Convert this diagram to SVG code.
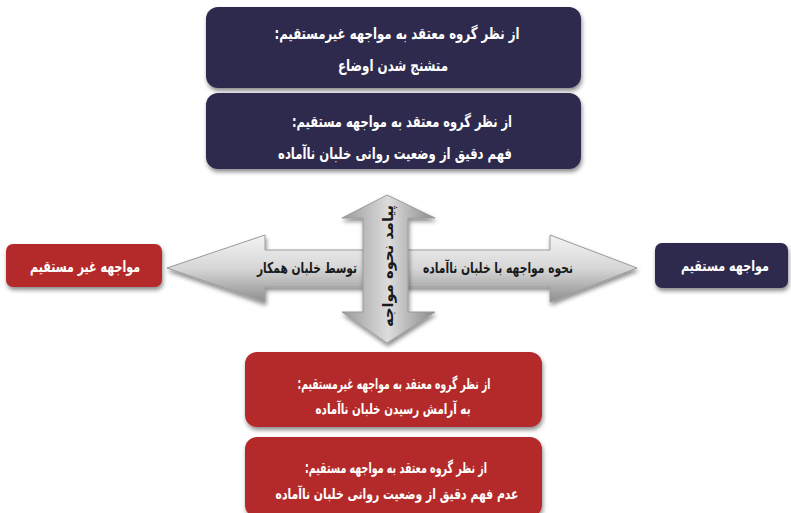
<svg xmlns="http://www.w3.org/2000/svg" width="791" height="513" viewBox="0 0 791 513">
<defs>
<style>
.t{font-family:"DejaVu Sans",sans-serif;font-weight:bold;text-anchor:middle;direction:rtl}
.w{fill:#ffffff;font-size:16px}
.s{font-size:15px}
.d{fill:#1a1a1a;font-size:15px}
.navy{fill:#2f2a4e}
.red{fill:#b42a2c}
.arr{stroke:#9a9a9a;stroke-width:1}
</style>
<linearGradient id="gh" x1="0" y1="0" x2="0" y2="1">
<stop offset="0" stop-color="#f4f4f4"/>
<stop offset="0.5" stop-color="#d6d6d6"/>
<stop offset="1" stop-color="#8e8e8e"/>
</linearGradient>
<linearGradient id="gv" x1="0" y1="0" x2="1" y2="0">
<stop offset="0" stop-color="#9a9a9a"/>
<stop offset="0.5" stop-color="#dcdcdc"/>
<stop offset="1" stop-color="#8a8a8a"/>
</linearGradient>
<filter id="sh" x="-10%" y="-10%" width="120%" height="130%">
<feDropShadow dx="1" dy="3" stdDeviation="2" flood-color="#000" flood-opacity="0.45"/>
</filter>
</defs>
<rect width="791" height="513" fill="#ffffff"/>

<g id="connectors">
<path id="h-arrow" class="arr" fill="url(#gh)" filter="url(#sh)" d="M167,268 L265,235 L265,250 L550,250 L550,235 L637,268 L550,302 L550,287 L265,287 L265,302 Z"/>
<path id="v-arrow" class="arr" fill="url(#gv)" filter="url(#sh)" d="M387,195 L435,218 L408,218 L408,312 L435,312 L387,343 L342,312 L363,312 L363,218 L342,218 Z"/>
</g>

<g id="box-top-1">
<rect class="navy" x="206" y="7" width="375" height="81" rx="12" filter="url(#sh)"/>
<text class="t w" x="397" y="39" textLength="245" lengthAdjust="spacingAndGlyphs">از نظر گروه معتقد به مواجهه  غیرمستقیم:</text>
<text class="t w" x="393" y="71" textLength="110" lengthAdjust="spacingAndGlyphs">متشنج شدن اوضاع</text>
</g>

<g id="box-top-2">
<rect class="navy" x="206" y="93" width="375" height="76" rx="12" filter="url(#sh)"/>
<text class="t w" x="402" y="127" textLength="220" lengthAdjust="spacingAndGlyphs">از نظر گروه معتقد به مواجهه مستقیم:</text>
<text class="t w" x="395" y="159" textLength="234" lengthAdjust="spacingAndGlyphs">فهم دقیق از وضعیت روانی خلبان ناآماده</text>
</g>

<g id="box-left">
<rect class="red" x="6" y="244" width="156" height="43" rx="7" filter="url(#sh)"/>
<text class="t w" x="85" y="272" textLength="110" lengthAdjust="spacingAndGlyphs">مواجهه غیر مستقیم</text>
</g>

<g id="box-right">
<rect class="navy" x="655" y="243" width="133" height="45" rx="7" filter="url(#sh)"/>
<text class="t w s" x="725" y="271" textLength="88" lengthAdjust="spacingAndGlyphs" style="direction:ltr">مواجهه مستقیم</text>
</g>

<g id="box-bottom-1">
<rect class="red" x="245" y="352" width="297" height="75" rx="12" filter="url(#sh)"/>
<text class="t w s" x="394" y="389" textLength="193" lengthAdjust="spacingAndGlyphs">از نظر گروه معتقد به مواجهه  غیرمستقیم:</text>
<text class="t w s" x="393" y="414" textLength="155" lengthAdjust="spacingAndGlyphs">به آرامش رسیدن خلبان ناآماده</text>
</g>

<g id="box-bottom-2">
<rect class="red" x="245" y="437" width="297" height="80" rx="12" filter="url(#sh)"/>
<text class="t w s" x="396" y="473" textLength="182" lengthAdjust="spacingAndGlyphs">از نظر گروه معتقد به مواجهه مستقیم:</text>
<text class="t w s" x="397" y="499" textLength="243" lengthAdjust="spacingAndGlyphs">عدم فهم دقیق از وضعیت روانی خلبان ناآماده</text>
</g>

<g id="arrow-labels">
<text class="t d" x="307" y="273" textLength="100" lengthAdjust="spacingAndGlyphs">توسط  خلبان همکار</text>
<text class="t d" x="498" y="273" textLength="150" lengthAdjust="spacingAndGlyphs">نحوه مواجهه با خلبان ناآماده</text>
<text class="t d" transform="translate(393,266) rotate(-90)" x="0" y="0" textLength="122" lengthAdjust="spacingAndGlyphs">پیامد نحوه مواجه</text>
</g>
</svg>
